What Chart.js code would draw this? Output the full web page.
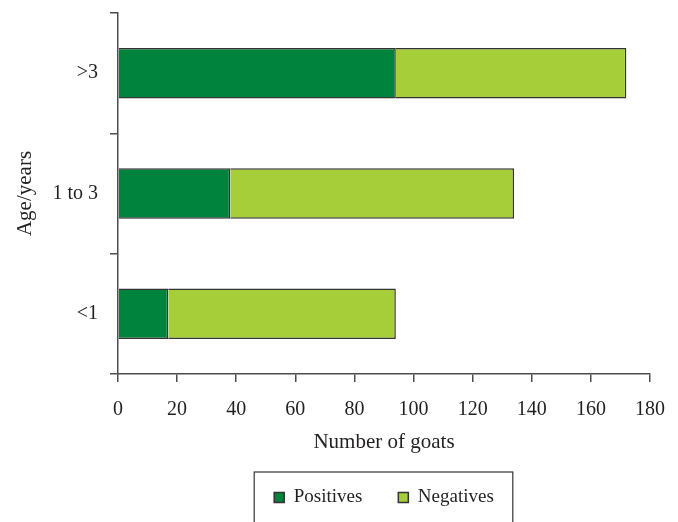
<!DOCTYPE html>
<html>
<head>
<meta charset="utf-8">
<script src="https://cdn.jsdelivr.net/npm/chart.js@4.4.1/dist/chart.umd.min.js"></script>
<style>
  html, body { margin: 0; padding: 0; background: #fff; }
  #wrap { width: 678px; height: 522px; }
</style>
</head>
<body>
<div id="wrap"><canvas id="goat-chart"></canvas></div>
<script>
// 年齢区分（上から順）
const ageGroups = [">3", "1 to 3", "<1"];
// 陽性・陰性の頭数
const positives = [94, 38, 17];
const negatives = [78, 96, 77];
// x軸目盛り
const xMax = 180;
const xStep = 20;

const FONT = "'Liberation Serif', 'DejaVu Serif', serif";
const TEXT = "#231f20";
const LINE = "#4d4d4d";

// 凡例の高さ
const legendHeightPlugin = {
    id: "legendHeight",
    beforeInit(chart) {
        const originalFit = chart.legend.fit;
        chart.legend.fit = function () {
            originalFit.bind(chart.legend)();
            this.height = 70;
        };
    }
};

// 凡例の枠線
const legendFramePlugin = {
    id: "legendFrame",
    afterDraw(chart) {
        const boxes = chart.legend.legendHitBoxes;
        if (!boxes || boxes.length === 0) return;
        const first = boxes[0];
        const last = boxes[boxes.length - 1];
        const { ctx } = chart;
        ctx.save();
        ctx.strokeStyle = "#333";
        ctx.lineWidth = 1.2;
        const left = first.left - 20;
        const right = last.left + last.width + 19;
        const top = chart.legend.top + 20;
        ctx.strokeRect(left, top, right - left, chart.height - top + 10);
        ctx.restore();
    }
};

new Chart(document.getElementById("goat-chart"), {
    type: "bar",
    data: {
        labels: ageGroups,
        datasets: [
            {
                label: "Positives",
                data: positives,
                backgroundColor: "#00843d",
                borderColor: "#333",
                borderWidth: 1.5,
                categoryPercentage: 1,
                barPercentage: 0.42
            },
            {
                label: "Negatives",
                data: negatives,
                backgroundColor: "#a6ce39",
                borderColor: "#333",
                borderWidth: 1.5,
                categoryPercentage: 1,
                barPercentage: 0.42
            }
        ]
    },
    options: {
        indexAxis: "y",
        responsive: true,
        maintainAspectRatio: false,
        animation: false,
        layout: {
            padding: { top: 13, right: 28, left: 0, bottom: 0 }
        },
        scales: {
            x: {
                stacked: true,
                min: 0,
                max: xMax,
                ticks: {
                    stepSize: xStep,
                    color: TEXT,
                    padding: 16,
                    font: { family: FONT, size: 20 }
                },
                grid: {
                    drawOnChartArea: false,
                    color: LINE,
                    lineWidth: 1.5,
                    tickLength: 8
                },
                border: { color: LINE, width: 1.5 },
                title: {
                    display: true,
                    text: "Number of goats",
                    color: TEXT,
                    padding: { top: 4, bottom: -3 },
                    font: { family: FONT, size: 21 }
                },
                afterFit(scale) {
                    scale.height = 78;
                    scale.paddingLeft = 0;
                    scale.paddingRight = 0;
                }
            },
            y: {
                stacked: true,
                ticks: {
                    color: TEXT,
                    padding: 12,
                    font: { family: FONT, size: 20 }
                },
                grid: {
                    drawOnChartArea: false,
                    offset: true,
                    color: LINE,
                    lineWidth: 1.5,
                    tickLength: 8
                },
                border: { color: LINE, width: 1.5 },
                title: {
                    display: true,
                    text: "Age/years",
                    color: TEXT,
                    padding: { top: 13, bottom: 0 },
                    font: { family: FONT, size: 21 }
                },
                afterFit(scale) {
                    scale.width = 118;
                    scale.paddingTop = 0;
                    scale.paddingBottom = 0;
                }
            }
        },
        plugins: {
            legend: {
                position: "bottom",
                fullSize: false,
                labels: {
                    color: TEXT,
                    boxWidth: 10,
                    boxHeight: 10,
                    padding: 36,
                    font: { family: FONT, size: 19 }
                }
            },
            tooltip: { enabled: false }
        }
    },
    plugins: [legendHeightPlugin, legendFramePlugin]
});
</script>
</body>
</html>
